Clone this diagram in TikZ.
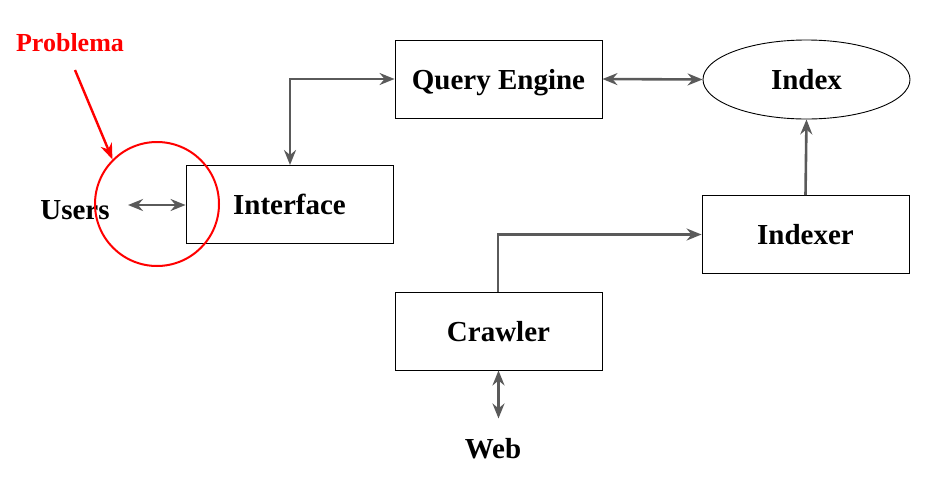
\documentclass[tikz,border=0pt]{standalone}
\usepackage{fontspec}
\setmainfont{Liberation Serif}
\usetikzlibrary{arrows.meta,shapes.geometric}
\definecolor{linegray}{HTML}{5A5A5A}
\begin{document}
\begin{tikzpicture}[x=1pt,y=-1pt,
  box/.style={draw=black,line width=0.9pt,minimum width=207pt,minimum height=78pt,inner sep=0pt,text height=20pt,text depth=0pt,font=\fontsize{29}{32}\selectfont\bfseries},
  lbl/.style={inner sep=0pt,font=\fontsize{29}{32}\selectfont\bfseries},
  conn/.style={draw=linegray,line width=2.6pt,arrows={-Stealth[length=15pt,width=12pt,inset=5pt]}},
  biconn/.style={draw=linegray,line width=2.6pt,arrows={Stealth[length=15pt,width=12pt,inset=5pt]-Stealth[length=15pt,width=12pt,inset=5pt]}},
  redconn/.style={draw=red,line width=2.4pt,arrows={-Stealth[length=16pt,width=12pt,inset=5pt]}}]
\useasboundingbox (0,0) rectangle (940,477);
\node[box] (qe) at (498.5,79) {Query Engine};
\node[box,ellipse,minimum height=79pt] (idx) at (806.5,79.5) {Index};
\node[box] (iface) at (289.5,204.5) {Interface};
\node[box] (indexer) at (805.5,234.5) {Indexer};
\node[box] (crawler) at (498.5,331) {Crawler};
\node[lbl] (users) at (75,210) {Users};
\node[lbl] (web) at (493,449) {Web};
\node[inner sep=0pt,text=red,font=\fontsize{26}{28}\selectfont\bfseries] (prob) at (70,43) {Problema};
\node[draw=red,line width=2pt,circle,minimum size=124pt,inner sep=0pt] (circ) at (157,204) {};
\coordinate (usersR) at (128,205);
\coordinate (ifaceTop) at (290,165);
\coordinate (crawlTop) at (498,292);
\draw[biconn] (usersR) -- (iface.west |- usersR);
\draw[biconn] (ifaceTop) |- (qe.west);
\draw[biconn] (qe.east) -- (idx.west);
\draw[conn] (indexer.north) -- (idx.south);
\draw[conn] (crawlTop) |- (indexer.west);
\draw[biconn] (crawler.south) -- ([yshift=-48pt]crawler.south);
\draw[redconn] (75,70) -- (circ.135);
\end{tikzpicture}
\end{document}
